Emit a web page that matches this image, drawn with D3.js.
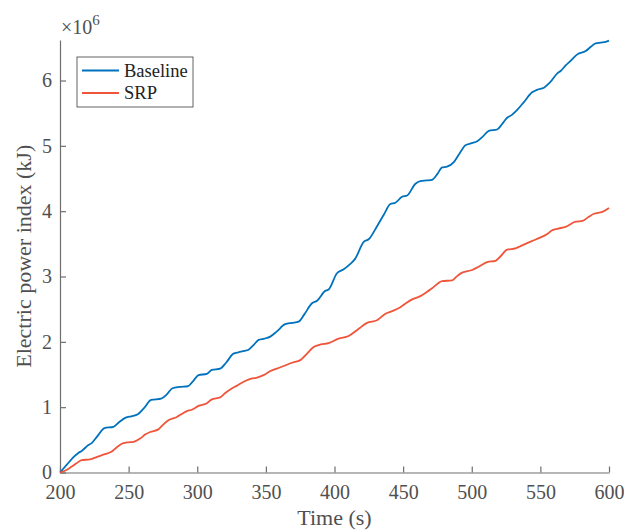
<!DOCTYPE html>
<html>
<head>
<meta charset="utf-8">
<script src="https://cdn.jsdelivr.net/npm/d3@7"></script>
<style>
  html, body { margin: 0; padding: 0; background: #fff; }
  svg text { font-family: "Liberation Serif", "Times New Roman", Times, "DejaVu Serif", serif !important; }
</style>
</head>
<body>
<svg id="chart" width="624" height="531"></svg>
<script>
// Cumulative electric power index (values in units of 1e6 kJ)
const baselineTime = [200,205,210,213.4,215.8,220.7,223.1,227,232.4,238.9,243,247.9,252,256.7,261,266.4,273.7,278,281.9,287,293.1,297,300.9,307,310.6,316.7,321,326.4,330,334.4,337.4,341,344.7,349,353.2,358,364.1,369,373.9,378,383.6,387.3,393.3,395.7,401.8,406.7,410.3,415,421.3,424.9,431,436,440.7,444.4,449.2,452.9,459,462.6,467,471.1,475,478.4,482,486.9,491,495.4,500,504,508,512.4,518.5,522,525.8,529,533.1,538,544,548,552.6,557,562.3,565,568.4,572,576.9,583,587,590.3,594,597.6,600];
const baselineValue = [0,0.12,0.24,0.30,0.33,0.42,0.45,0.55,0.68,0.70,0.77,0.84,0.86,0.89,0.98,1.11,1.13,1.20,1.29,1.31,1.32,1.40,1.49,1.51,1.57,1.59,1.68,1.82,1.84,1.86,1.88,1.95,2.03,2.05,2.08,2.16,2.27,2.29,2.31,2.42,2.59,2.63,2.78,2.80,3.05,3.11,3.17,3.27,3.53,3.57,3.77,3.95,4.11,4.13,4.22,4.24,4.42,4.46,4.47,4.48,4.57,4.67,4.68,4.75,4.88,5.01,5.04,5.07,5.14,5.23,5.25,5.33,5.43,5.47,5.55,5.67,5.82,5.86,5.89,5.97,6.11,6.15,6.23,6.30,6.40,6.45,6.52,6.57,6.58,6.59,6.61];

const srpTime = [200,204,208.5,212,215.8,221.9,227,232.8,237.7,241,245,249,253.5,258.4,262,265.7,271.7,275,279,285.1,289,292.4,296.1,300.9,307,310.6,316.7,320,324,329,334.9,340,343,348.3,353,358,363,369,375.1,380,384.8,390,395.7,403,410.3,417,423.7,431,437.1,442,448,452,456.6,462.6,467,471.1,478.4,485.7,489,493,500.3,505,511.2,517.3,521,525.8,531.9,535,539.2,547,555,558,562.3,568.4,575.7,580.6,585,589,595.2,600];
const srpValue = [0,0.03,0.09,0.14,0.19,0.20,0.24,0.28,0.32,0.38,0.44,0.46,0.47,0.52,0.58,0.62,0.66,0.73,0.80,0.85,0.90,0.94,0.96,1.02,1.06,1.12,1.15,1.21,1.27,1.33,1.40,1.44,1.45,1.49,1.55,1.59,1.63,1.68,1.72,1.82,1.92,1.96,1.98,2.05,2.09,2.19,2.29,2.33,2.43,2.47,2.53,2.59,2.65,2.70,2.76,2.82,2.93,2.94,3.00,3.06,3.10,3.15,3.22,3.24,3.31,3.41,3.43,3.46,3.50,3.57,3.65,3.70,3.73,3.76,3.84,3.85,3.91,3.96,3.99,4.05];

const seriesNames = ["Baseline", "SRP"];
const seriesColors = ["#0072BD", "#EF553A"];
const xTicks = [200, 250, 300, 350, 400, 450, 500, 550, 600];
const yTicks = [0, 1, 2, 3, 4, 5, 6];
const xDomain = [200, 600];
const yDomain = [0, 6.62];

const svg = d3.select("#chart");
const m = { left: 60, right: 15, top: 40, bottom: 58.5 };
const W = 624, H = 531;
const serif = "'Liberation Serif', 'Times New Roman', Times, 'DejaVu Serif', serif";

const x = d3.scaleLinear().domain(xDomain).range([m.left, W - m.right]);
const y = d3.scaleLinear().domain(yDomain).range([H - m.bottom, m.top]);

const axisColor = "#6e6e6e";
const textColor = "#505050";

// Series
const series = [
  { name: seriesNames[0], color: seriesColors[0], pts: baselineTime.map((t, i) => [t, baselineValue[i]]) },
  { name: seriesNames[1], color: seriesColors[1], pts: srpTime.map((t, i) => [t, srpValue[i]]) }
];
const line = d3.line().x(d => x(d[0])).y(d => y(d[1])).curve(d3.curveMonotoneX);

// Axes
const xAxis = svg.append("g")
  .attr("transform", `translate(0,${y(0)})`)
  .call(d3.axisBottom(x).tickValues(xTicks).tickSizeInner(-6).tickSizeOuter(0).tickPadding(12));
const yAxis = svg.append("g")
  .attr("transform", `translate(${x(200)},0)`)
  .call(d3.axisLeft(y).tickValues(yTicks).tickFormat(d3.format("d")).tickSizeInner(-6).tickSizeOuter(0).tickPadding(8));

[xAxis, yAxis].forEach(g => {
  g.attr("font-family", null);
  g.selectAll("path").attr("stroke", axisColor).attr("stroke-width", 1.2);
  g.selectAll("line").attr("stroke", axisColor).attr("stroke-width", 1.2);
  g.selectAll("text").attr("fill", textColor).attr("font-size", 20).style("font-family", serif);
});

// Lines on top of axes
series.forEach(s => {
  svg.append("path")
    .datum(s.pts)
    .attr("fill", "none")
    .attr("stroke", s.color)
    .attr("stroke-width", 1.8)
    .attr("stroke-linejoin", "round")
    .attr("d", line);
});

// Exponent label
const expo = svg.append("text")
  .attr("x", x(200) + 1).attr("y", 34)
  .attr("fill", textColor).attr("font-size", 20).style("font-family", serif);
expo.append("tspan").text("×10");
expo.append("tspan").attr("dy", -9).attr("font-size", 15).text("6");

// Axis titles
svg.append("text")
  .attr("x", (x(200) + x(600)) / 2).attr("y", 525)
  .attr("text-anchor", "middle").attr("fill", textColor).attr("font-size", 22)
  .style("font-family", serif)
  .text("Time (s)");
svg.append("text")
  .attr("transform", `translate(31,${(y(0) + y(6.62)) / 2}) rotate(-90)`)
  .attr("text-anchor", "middle").attr("fill", textColor).attr("font-size", 22)
  .style("font-family", serif)
  .text("Electric power index (kJ)");

// Legend
const lg = svg.append("g").attr("transform", "translate(77,57)");
lg.append("rect").attr("width", 116).attr("height", 50)
  .attr("fill", "#fff").attr("stroke", "#3c3c3c").attr("stroke-width", 0.8);
series.forEach((s, i) => {
  const ly = 13.5 + i * 22.5;
  lg.append("line").attr("x1", 5).attr("x2", 42).attr("y1", ly).attr("y2", ly)
    .attr("stroke", s.color).attr("stroke-width", 1.8);
  lg.append("text").attr("x", 47).attr("y", ly + 6)
    .attr("fill", "#222").attr("font-size", 18.5).style("font-family", serif).text(s.name);
});
</script>
</body>
</html>
